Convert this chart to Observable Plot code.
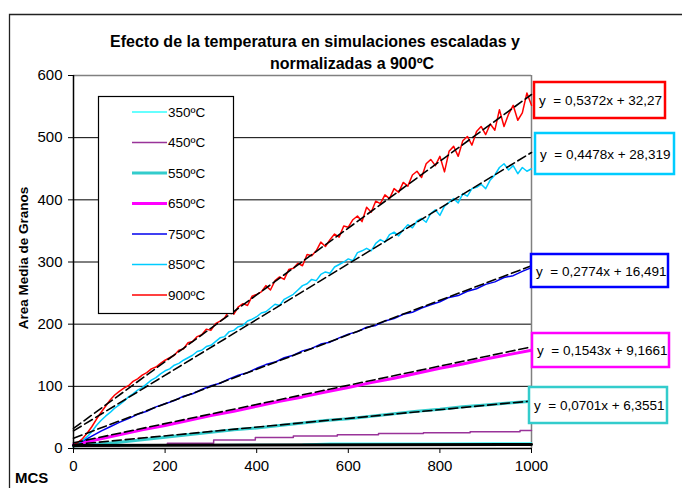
<!DOCTYPE html>
<html>
<head>
<meta charset="utf-8">
<script src="https://cdn.jsdelivr.net/npm/d3@7"></script>
<script src="https://cdn.jsdelivr.net/npm/@observablehq/plot@0.6"></script>
<style>
  html, body { margin: 0; padding: 0; background: white; }
  svg { display: block; }
</style>
</head>
<body>
<div id="chart"></div>
<script>
// ---------- data ----------
const titleLines = ["Efecto de la temperatura en simulaciones escaladas y", "normalizadas a 900ºC"];
const yTitle = "Area Media de Granos";
const xTitle = "MCS";
const xTicks = [0, 200, 400, 600, 800, 1000];
const yTicks = [0, 100, 200, 300, 400, 500, 600];
const gridValues = [100, 200, 300, 400, 500];

const seriesNames = ["350ºC", "450ºC", "550ºC", "650ºC", "750ºC", "850ºC", "900ºC"];
const seriesColors = ["#33FFFF", "#993399", "#33CCCC", "#FF00FF", "#0000EE", "#00CCFF", "#FF0000"];
const seriesWidths = [1.5, 1.5, 3, 3, 1.5, 1.5, 1.5];

// 350ºC
const x350 = [0, 100, 200, 300, 400, 500, 560, 600, 700, 800, 900, 1000];
const y350 = [4, 5, 5.5, 6, 6.5, 7, 8.5, 8.5, 8.5, 8.5, 9, 9];
// 450ºC (stepped)
const x450 = [0, 100, 205, 306, 397, 480, 576, 666, 764, 866, 975, 1000];
const y450 = [4, 6, 8.5, 13.5, 17.5, 20, 22, 24, 25.5, 27, 29, 29];
// 550ºC
const x550 = [0, 50, 100, 150, 200, 250, 300, 350, 400, 450, 500, 550, 600, 650, 700, 750, 800, 850, 900, 950, 1000];
const y550 = [4, 7, 10, 14, 18, 22, 26, 30, 33, 37, 41, 45, 48, 52, 56, 60, 63, 67, 70, 73, 76];
// 650ºC
const x650 = x550;
const y650 = [6, 14, 22, 30, 37, 45, 53, 60, 68, 76, 83, 91, 98, 106, 113, 121, 129, 136, 144, 151, 158];
// 750ºC
const x750 = [0, 20, 40, 60, 80, 100, 120, 140, 160, 180, 200, 220, 240, 260, 280, 300, 320, 340, 360, 380, 400, 420, 440, 460, 480, 500, 520, 540, 560, 580, 600, 620, 640, 660, 680, 700, 720, 740, 760, 780, 800, 820, 840, 860, 880, 900, 920, 940, 960, 980, 1000];
const y750 = [5, 12, 20, 28, 35, 42, 48, 55, 60, 67, 72, 77, 84, 88, 95, 101, 105, 112, 118, 122, 129, 135, 139, 146, 150, 157, 161, 168, 171, 178, 184, 188, 195, 198, 205, 209, 216, 219, 226, 231, 236, 243, 246, 253, 257, 264, 268, 275, 278, 285, 291];
// 850ºC and 900ºC, read every 10 MCS
const xNoisy = [0, 10, 20, 30, 40, 50, 60, 70, 80, 90, 100, 110, 120, 130, 140, 150, 160, 170, 180, 190, 200, 210, 220, 230, 240, 250, 260, 270, 280, 290, 300, 310, 320, 330, 340, 350, 360, 370, 380, 390, 400, 410, 420, 430, 440, 450, 460, 470, 480, 490, 500, 510, 520, 530, 540, 550, 560, 570, 580, 590, 600, 610, 620, 630, 640, 650, 660, 670, 680, 690, 700, 710, 720, 730, 740, 750, 760, 770, 780, 790, 800, 810, 820, 830, 840, 850, 860, 870, 880, 890, 900, 910, 920, 930, 940, 950, 960, 970, 980, 990, 1000];
const y850 = [4, 8, 13, 19, 27, 37, 45, 52, 58, 65,
  70, 76, 83, 88, 94, 98, 104, 110, 114, 120,
  125, 128, 134, 137, 142, 146, 150, 156, 158, 164,
  166, 172, 178, 180, 188, 190, 196, 198, 205, 208,
  212, 218, 220, 226, 232, 230, 240, 244, 248, 255,
  262, 265, 272, 270, 280, 284, 282, 292, 296, 300,
  305, 302, 315, 318, 322, 318, 330, 336, 332, 344,
  348, 342, 352, 360, 355, 366, 370, 364, 378, 384,
  375, 390, 396, 402, 395, 410, 406, 418, 420, 425,
  418, 432, 440, 452, 458, 448, 455, 442, 452, 446, 450];
const y900 = [5, 10, 16, 25, 35, 47, 58, 68, 78, 86,
  92, 97, 101, 108, 112, 118, 122, 128, 131, 137,
  142, 146, 150, 158, 160, 170, 172, 180, 183, 192,
  190, 201, 205, 210, 222, 216, 228, 233, 230, 245,
  248, 252, 262, 255, 270, 276, 272, 288, 290, 298,
  294, 312, 310, 318, 332, 325, 336, 345, 340, 358,
  356, 368, 374, 365, 388, 380, 398, 394, 408, 402,
  418, 412, 428, 422, 440, 446, 436, 458, 465, 455,
  470, 445, 478, 486, 470, 495, 502, 488, 510, 518,
  505, 522, 512, 545, 518, 538, 552, 528, 540, 572, 552];

// linear trends (slope, intercept)
const trendSlopes = [0.0015, 0.0701, 0.1543, 0.2774, 0.4478, 0.5372];
const trendIntercepts = [5, 6.3551, 9.1661, 16.491, 28.319, 32.27];
const trendDashed = [false, true, true, true, true, true];

// equation labels
const eqTexts = ["y = 0,5372x + 32,27", "y = 0,4478x + 28,319", "y = 0,2774x + 16,491", "y = 0,1543x + 9,1661", "y = 0,0701x + 6,3551"];
const eqColors = ["#FF0000", "#00CCFF", "#0000FF", "#FF00FF", "#33CCCC"];

// ---------- build ----------
const toRows = (xs, ys) => xs.map((x, i) => ({x, y: ys[i]}));
const seriesRows = [
  toRows(x350, y350), toRows(x450, y450), toRows(x550, y550), toRows(x650, y650),
  toRows(x750, y750), toRows(xNoisy, y850), toRows(xNoisy, y900)
];
const trendRows = trendSlopes.map((m, i) => [0, 1000].map(x => ({x, y: m * x + trendIntercepts[i]})));

const FONT = "'Liberation Sans', Arial, Helvetica, sans-serif";

const marks = [
  Plot.ruleY(gridValues, {stroke: "black", strokeWidth: 1}),
  Plot.ruleY([600], {stroke: "#808080", strokeWidth: 1.5}),
  Plot.ruleX([1000], {stroke: "#808080", strokeWidth: 1.5}),
];
seriesRows.forEach((rows, i) => {
  marks.push(Plot.line(rows, {x: "x", y: "y", stroke: seriesColors[i], strokeWidth: seriesWidths[i],
    curve: i === 1 ? "step-after" : "linear"}));
});
trendRows.forEach((rows, i) => {
  marks.push(Plot.line(rows, {x: "x", y: "y", stroke: "black",
    strokeWidth: trendDashed[i] ? 1.6 : 3, strokeDasharray: trendDashed[i] ? "9,4" : null}));
});
marks.push(
  Plot.ruleX([0], {stroke: "black", strokeWidth: 1.5}),
  Plot.ruleY([0], {stroke: "black", strokeWidth: 1.5}),
  Plot.axisY({ticks: yTicks, tickSize: 5, tickPadding: 6, label: null, tickFormat: d => String(d)}),
  Plot.axisX({ticks: xTicks, tickSize: 5, tickPadding: 7, label: null, tickFormat: d => String(d)})
);

const chart = Plot.plot({
  width: 682,
  height: 488,
  marginLeft: 73,
  marginRight: 151,
  marginTop: 75,
  marginBottom: 40,
  style: {fontFamily: FONT, fontSize: "15px", color: "black", background: "white"},
  x: {domain: [0, 1000]},
  y: {domain: [0, 600]},
  marks
});
document.getElementById("chart").appendChild(chart);

const svg = d3.select(chart);

// outer border
svg.append("path").attr("d", "M9.5,488V14.5H682")
  .attr("fill", "none").attr("stroke", "#222").attr("stroke-width", 1.3);

// title
const titleX = [315, 352];
const titleY = [47, 69];
titleLines.forEach((t, i) => {
  svg.append("text").attr("x", titleX[i]).attr("y", titleY[i]).attr("text-anchor", "middle")
    .attr("font-family", FONT).attr("font-weight", "bold").attr("font-size", 16).attr("fill", "black").text(t);
});

// axis titles
svg.append("text").attr("transform", "translate(28,258) rotate(-90)").attr("text-anchor", "middle")
  .attr("font-family", FONT).attr("font-weight", "bold").attr("font-size", 13.5).attr("fill", "black").text(yTitle);
svg.append("text").attr("x", 15).attr("y", 483).attr("text-anchor", "start")
  .attr("font-family", FONT).attr("font-weight", "bold").attr("font-size", 15).attr("fill", "black").text(xTitle);

// legend
const lg = svg.append("g");
lg.append("rect").attr("x", 98.5).attr("y", 96.5).attr("width", 135).attr("height", 217)
  .attr("fill", "white").attr("stroke", "black").attr("stroke-width", 1.2);
seriesNames.forEach((name, i) => {
  const yy = 112 + i * 30.5;
  lg.append("line").attr("x1", 132).attr("x2", 167).attr("y1", yy).attr("y2", yy)
    .attr("stroke", seriesColors[i]).attr("stroke-width", seriesWidths[i]);
  lg.append("text").attr("x", 168).attr("y", yy + 4.5).attr("text-anchor", "start")
    .attr("font-family", FONT).attr("font-size", 13.5).attr("fill", "black").text(name);
});

// equation boxes
const boxX = [534, 535, 531, 532, 529];
const boxY = [82, 133, 254, 333, 387];
const boxW = [131, 139, 137, 137, 138];
const boxH = [36, 41, 33, 34, 36];
eqTexts.forEach((t, i) => {
  svg.append("rect").attr("x", boxX[i]).attr("y", boxY[i]).attr("width", boxW[i]).attr("height", boxH[i])
    .attr("fill", "white").attr("stroke", eqColors[i]).attr("stroke-width", 2.5);
  svg.append("text").attr("x", boxX[i] + 5).attr("y", boxY[i] + boxH[i] / 2 + 5).attr("text-anchor", "start")
    .attr("font-family", FONT).attr("font-size", 13.5).attr("fill", "black")
    .attr("xml:space", "preserve").text(t.replace("y = ", "y  = "));
});
</script>
</body>
</html>
